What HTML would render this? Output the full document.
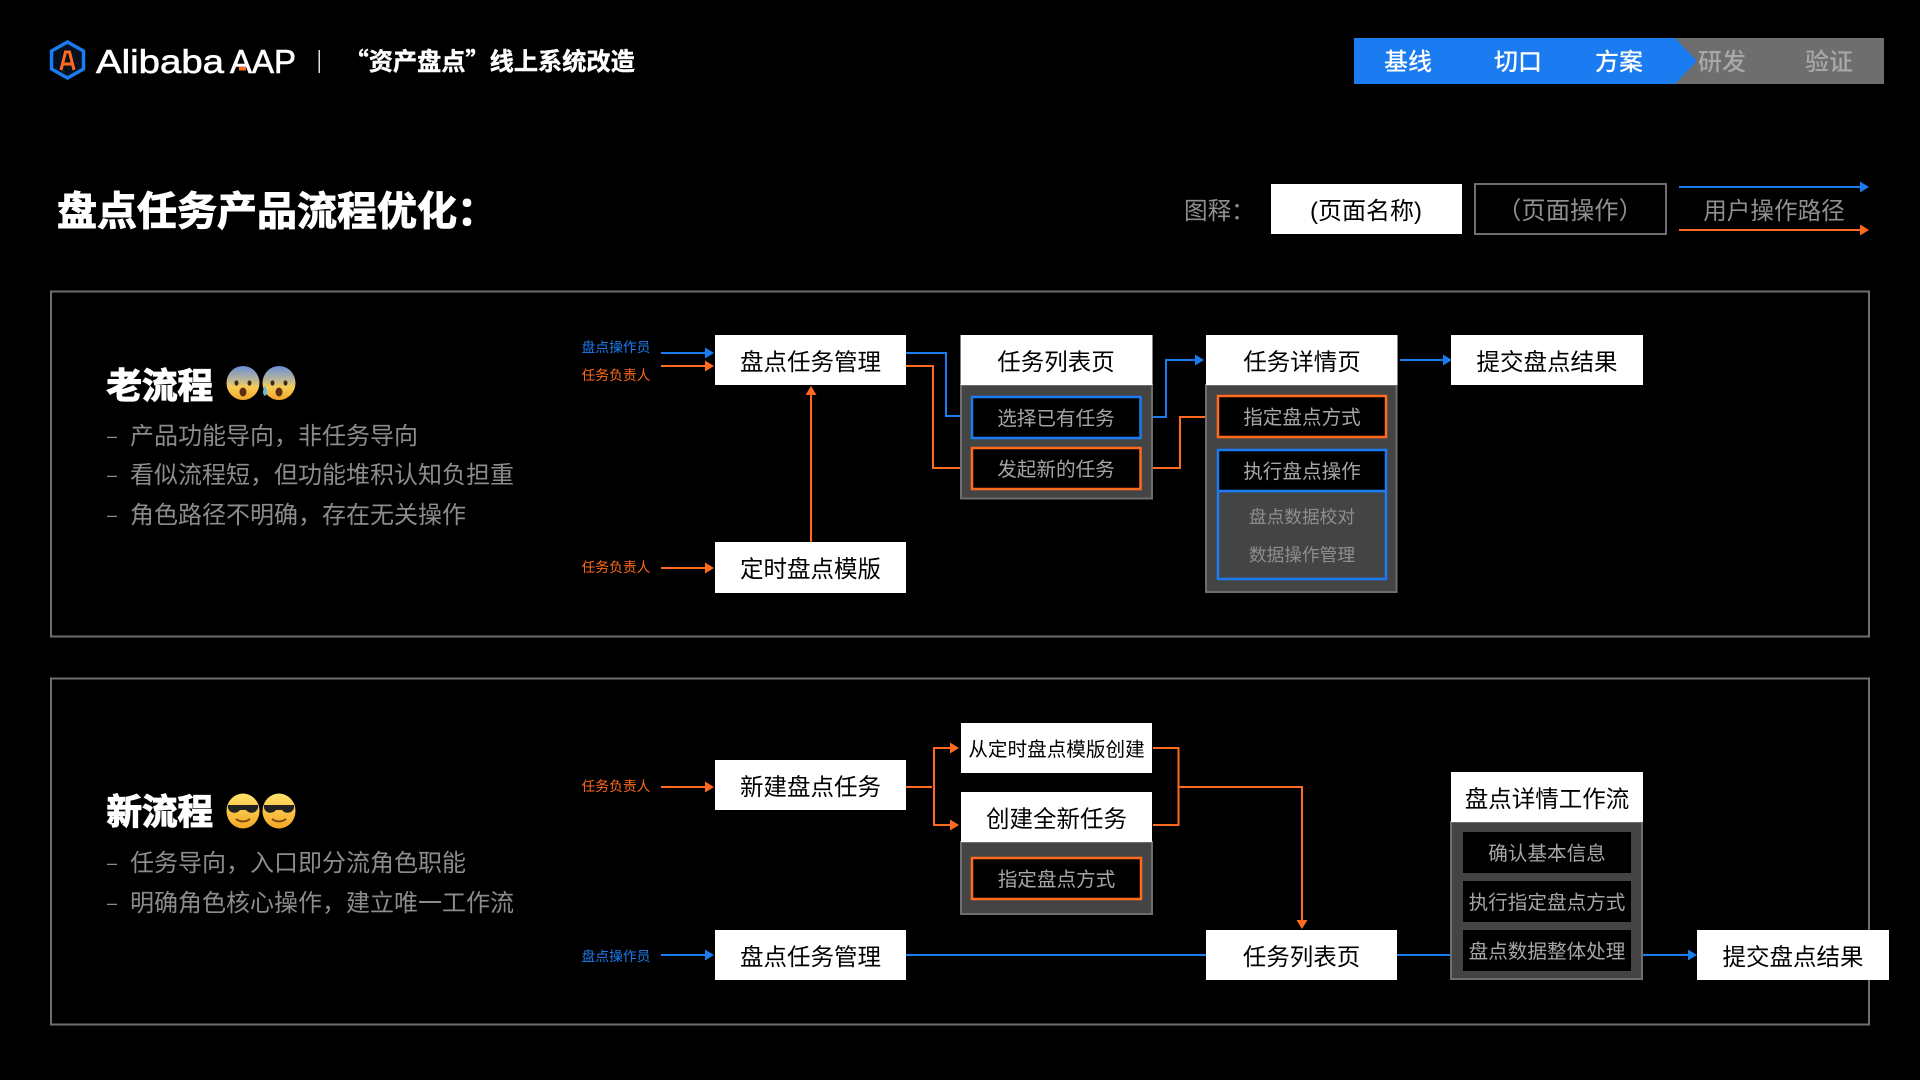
<!DOCTYPE html>
<html lang="zh"><head><meta charset="utf-8"><title>盘点任务产品流程优化</title>
<style>
html,body{margin:0;padding:0;background:#000;width:1920px;height:1080px;overflow:hidden}
svg{display:block}
text{font-family:"Liberation Sans","Noto Sans CJK SC",sans-serif}
.m{text-anchor:middle}
.k{fill:#000;font-size:23.5px;text-anchor:middle}
.g20{fill:#a6a6a6;font-size:19.6px;text-anchor:middle}
.g18{fill:#8e8e8e;font-size:17.7px;text-anchor:middle}
.b{fill:#8c8c8c;font-size:24px}
.d{fill:#8c8c8c;font-size:18px}
.h{fill:#fff;font-size:35.500px;font-weight:700;stroke:#fff;stroke-width:1.200}
.rb{fill:#1a7cf0;font-size:13.8px}
.ro{fill:#ff6a1f;font-size:13.8px}
.lb{fill:none;stroke:#1a7cf0;stroke-width:2}
.lo{fill:none;stroke:#ff6a1f;stroke-width:2}
.ab{fill:#1a7cf0}.ao{fill:#ff6a1f}
.w{fill:#fff}
.body{fill:#444;stroke:#6e6e6e;stroke-width:2}
.ib{fill:#000;stroke:#1a7cf0;stroke-width:2.5}
.io{fill:#000;stroke:#ff6a1f;stroke-width:2.5}
</style></head><body>
<svg width="1920" height="1080" viewBox="0 0 1920 1080" xmlns="http://www.w3.org/2000/svg">
<defs>
<linearGradient id="fy" x1="0" y1="0" x2="0" y2="1"><stop offset="0" stop-color="#ffe36b"/><stop offset="1" stop-color="#f5a623"/></linearGradient>
<linearGradient id="fear" x1="0" y1="0" x2="0" y2="1"><stop offset="0" stop-color="#6a8fd8"/><stop offset=".4" stop-color="#b9b59a"/><stop offset=".62" stop-color="#f8cc55"/><stop offset="1" stop-color="#f3a52b"/></linearGradient>
<g id="fearf"><ellipse cx="0" cy="0" rx="16.500" ry="17" fill="url(#fear)"/><ellipse cx="-6.500" cy="0" rx="2" ry="2.600" fill="#3a2a1a"/><ellipse cx="6.500" cy="0" rx="2" ry="2.600" fill="#3a2a1a"/><ellipse cx="0" cy="9" rx="3.500" ry="4.500" fill="#5b2d12"/></g>
<g id="coolf"><ellipse cx="0" cy="0" rx="16.500" ry="17.500" fill="url(#fy)"/><path d="M-15-6H15V-3C13 3 6 3 3-1H-3C-6 3-13 3-15-3Z" fill="#222"/><path d="M-7 8Q0 13 7 8" fill="none" stroke="#7a4312" stroke-width="1.800"/></g>
</defs>
<rect width="1920" height="1080" fill="#000"/>

<!-- header -->
<polygon points="67.5,42 83.5,51 83.5,69 67.5,78 51.5,69 51.5,51" fill="#06101e" stroke="#1a7cf0" stroke-width="3.5"/>
<path d="M61 70 L65.5 52 H69.5 L74 70 M63 64 H72" fill="none" stroke="#ff6a1f" stroke-width="3"/>
<text x="96" y="73" fill="#fff" font-size="33" stroke="#fff" stroke-width=".6" textLength="128" lengthAdjust="spacingAndGlyphs">Alibaba</text>
<text x="230" y="73" fill="#fff" font-size="33" stroke="#fff" stroke-width=".6" textLength="66" lengthAdjust="spacingAndGlyphs">AAP</text>
<rect x="239" y="67" width="7" height="3.500" fill="#ff6a1f"/>
<rect x="318.500" y="50" width="1.500" height="23" fill="#ddd"/>
<text x="344.500" y="70" fill="#fff" font-size="24.200" font-weight="700" stroke="#fff" stroke-width=".4" style='font-family:"Noto Sans CJK SC",sans-serif'>“资产盘点”线上系统改造</text>

<!-- nav -->
<rect x="1354" y="38" width="530" height="46" fill="#6e6e6e"/>
<polygon points="1354,38 1675,38 1697,61 1675,84 1354,84" fill="#1a7cf0"/>
<g font-size="24" text-anchor="middle" font-weight="500">
<text x="1408" y="70" fill="#fff">基线</text>
<text x="1518" y="70" fill="#fff">切口</text>
<text x="1619" y="70" fill="#fff">方案</text>
<text x="1722" y="70" fill="#a8a8a8">研发</text>
<text x="1829" y="70" fill="#a8a8a8">验证</text>
</g>

<!-- title -->
<text x="57" y="225" fill="#fff" font-size="40" font-weight="700" stroke="#fff" stroke-width="1">盘点任务产品流程优化：</text>

<!-- legend -->
<text x="1184" y="219" fill="#8f8f8f" font-size="23.600">图释：</text>
<rect x="1271" y="184" width="191" height="50" fill="#fff"/>
<text x="1366" y="219" fill="#000" font-size="24" class="m">(页面名称)</text>
<rect x="1475" y="184" width="191" height="50" fill="#000" stroke="#6e6e6e" stroke-width="2"/>
<text x="1570" y="219" fill="#8f8f8f" font-size="24.300" class="m">（页面操作）</text>
<text x="1774" y="219" fill="#8f8f8f" font-size="23.600" class="m">用户操作路径</text>
<path d="M1679 187H1862" class="lb"/><polygon points="1860,181.500 1869,187 1860,192.500" class="ab"/>
<path d="M1679 230H1862" class="lo"/><polygon points="1860,224.500 1869,230 1860,235.500" class="ao"/>

<!-- panels -->
<rect x="51" y="291.500" width="1818" height="345" fill="#000" stroke="#6e6e6e" stroke-width="2"/>
<rect x="51" y="678.500" width="1818" height="346" fill="#000" stroke="#6e6e6e" stroke-width="2"/>

<!-- old flow left -->
<text x="106.500" y="398" class="h">老流程</text>
<use href="#fearf" x="243" y="383"/>
<use href="#fearf" x="279" y="383"/>
<path d="M265 386q-4 7 0 10q4-3 0-10Z" fill="#5fb8f0"/>
<text x="107" y="442" class="d">–</text><text x="130" y="444" class="b">产品功能导向，非任务导向</text>
<text x="107" y="481" class="d">–</text><text x="130" y="483" class="b">看似流程短，但功能堆积认知负担重</text>
<text x="107" y="521" class="d">–</text><text x="130" y="523" class="b">角色路径不明确，存在无关操作</text>

<!-- old flow roles -->
<text x="581.500" y="352" class="rb">盘点操作员</text>
<text x="581.500" y="380" class="ro">任务负责人</text>
<text x="581.500" y="572" class="ro">任务负责人</text>
<path d="M661 353H708" class="lb"/><polygon points="705,347.500 714,353 705,358.500" class="ab"/>
<path d="M661 366H708" class="lo"/><polygon points="705,360.500 714,366 705,371.500" class="ao"/>
<path d="M661 568H708" class="lo"/><polygon points="705,562.500 714,568 705,573.500" class="ao"/>

<!-- old flow connectors -->
<path d="M811 542V392" class="lo"/><polygon points="805.500,395 811,386 816.500,395" class="ao"/>
<path d="M906 353H946V416H972" class="lb"/>
<path d="M906 366H933V468H972" class="lo"/>
<path d="M1141 417H1166V360H1198" class="lb"/><polygon points="1195,354.500 1204,360 1195,365.500" class="ab"/>
<path d="M1141 468H1180V417H1218" class="lo"/>
<path d="M1400 360H1446" class="lb"/><polygon points="1443,354.500 1452,360 1443,365.500" class="ab"/>

<!-- old flow nodes -->
<rect x="715" y="335" width="191" height="50" class="w"/><text x="810.500" y="370" class="k">盘点任务管理</text>
<rect x="715" y="542" width="191" height="51" class="w"/><text x="810.500" y="577" class="k">定时盘点模版</text>

<rect x="961" y="385" width="191" height="113.500" class="body"/>
<rect x="960.500" y="335" width="192" height="50" class="w"/><text x="1056" y="370" class="k">任务列表页</text>
<rect x="972" y="397" width="168.500" height="41" class="ib"/><text x="1056" y="425" class="g20">选择已有任务</text>
<rect x="972" y="448" width="168.500" height="41" class="io"/><text x="1056" y="476" class="g20">发起新的任务</text>

<rect x="1206" y="385" width="190.500" height="207" class="body"/>
<rect x="1206" y="335" width="191.500" height="50" class="w"/><text x="1302" y="370" class="k">任务详情页</text>
<rect x="1218" y="396" width="168" height="41" class="io"/><text x="1302" y="424" class="g20">指定盘点方式</text>
<rect x="1218" y="491" width="168" height="88" fill="none" stroke="#1a7cf0" stroke-width="2.500"/>
<rect x="1218" y="450" width="168" height="41" class="ib"/><text x="1302" y="478" class="g20">执行盘点操作</text>
<text x="1302" y="523" class="g18">盘点数据校对</text>
<text x="1302" y="561" class="g18">数据操作管理</text>

<rect x="1451" y="335" width="192" height="50" class="w"/><text x="1547" y="370" class="k">提交盘点结果</text>

<!-- new flow left -->
<text x="106.500" y="824" class="h">新流程</text>
<use href="#coolf" x="243" y="811"/>
<use href="#coolf" x="279" y="811"/>
<text x="107" y="869" class="d">–</text><text x="130" y="871" class="b">任务导向，入口即分流角色职能</text>
<text x="107" y="909" class="d">–</text><text x="130" y="911" class="b">明确角色核心操作，建立唯一工作流</text>

<!-- new flow roles -->
<text x="581.500" y="791" class="ro">任务负责人</text>
<text x="581.500" y="961" class="rb">盘点操作员</text>
<path d="M661 787H708" class="lo"/><polygon points="705,781.500 714,787 705,792.500" class="ao"/>
<path d="M661 955H708" class="lb"/><polygon points="705,949.500 714,955 705,960.500" class="ab"/>

<!-- new flow connectors -->
<path d="M906 787H932" class="lo"/>
<path d="M952 748H934V825H952" class="lo"/>
<polygon points="950,742.500 959,748 950,753.500" class="ao"/><polygon points="950,819.500 959,825 950,830.500" class="ao"/>
<path d="M1153 748H1178.500V825H1153" class="lo"/>
<path d="M1178.500 787H1302V923" class="lo"/><polygon points="1296.500,920 1302,929 1307.500,920" class="ao"/>
<path d="M906 955H1206" class="lb"/>
<path d="M1397 955H1451" class="lb"/>
<path d="M1642 955H1691" class="lb"/><polygon points="1688,949.500 1697,955 1688,960.500" class="ab"/>

<!-- new flow nodes -->
<rect x="715" y="760" width="191" height="50" class="w"/><text x="810.500" y="795" class="k">新建盘点任务</text>
<rect x="715" y="930" width="191" height="50" class="w"/><text x="810.500" y="965" class="k">盘点任务管理</text>

<rect x="961" y="723" width="191" height="50" class="w"/><text x="1056.500" y="756" fill="#000" font-size="19.600" class="m">从定时盘点模版创建</text>
<rect x="961" y="842" width="191" height="72" class="body"/>
<rect x="961" y="792" width="191" height="50" class="w"/><text x="1056.500" y="827" class="k">创建全新任务</text>
<rect x="972" y="858" width="169" height="41" class="io"/><text x="1056.500" y="886" class="g20">指定盘点方式</text>

<rect x="1206" y="930" width="191" height="50" class="w"/><text x="1301.500" y="965" class="k">任务列表页</text>

<rect x="1451" y="822" width="191" height="157" class="body"/>
<rect x="1451" y="772" width="192" height="50" class="w"/><text x="1547" y="807" class="k">盘点详情工作流</text>
<rect x="1463" y="832" width="168" height="41" fill="#000"/><text x="1547" y="860" class="g20">确认基本信息</text>
<rect x="1463" y="881" width="168" height="41" fill="#000"/><text x="1547" y="909" class="g20">执行指定盘点方式</text>
<rect x="1463" y="930" width="168" height="41" fill="#000"/><text x="1547" y="958" class="g20">盘点数据整体处理</text>

<rect x="1697" y="930" width="192" height="50" class="w"/><text x="1793" y="965" class="k">提交盘点结果</text>
</svg>
</body></html>
